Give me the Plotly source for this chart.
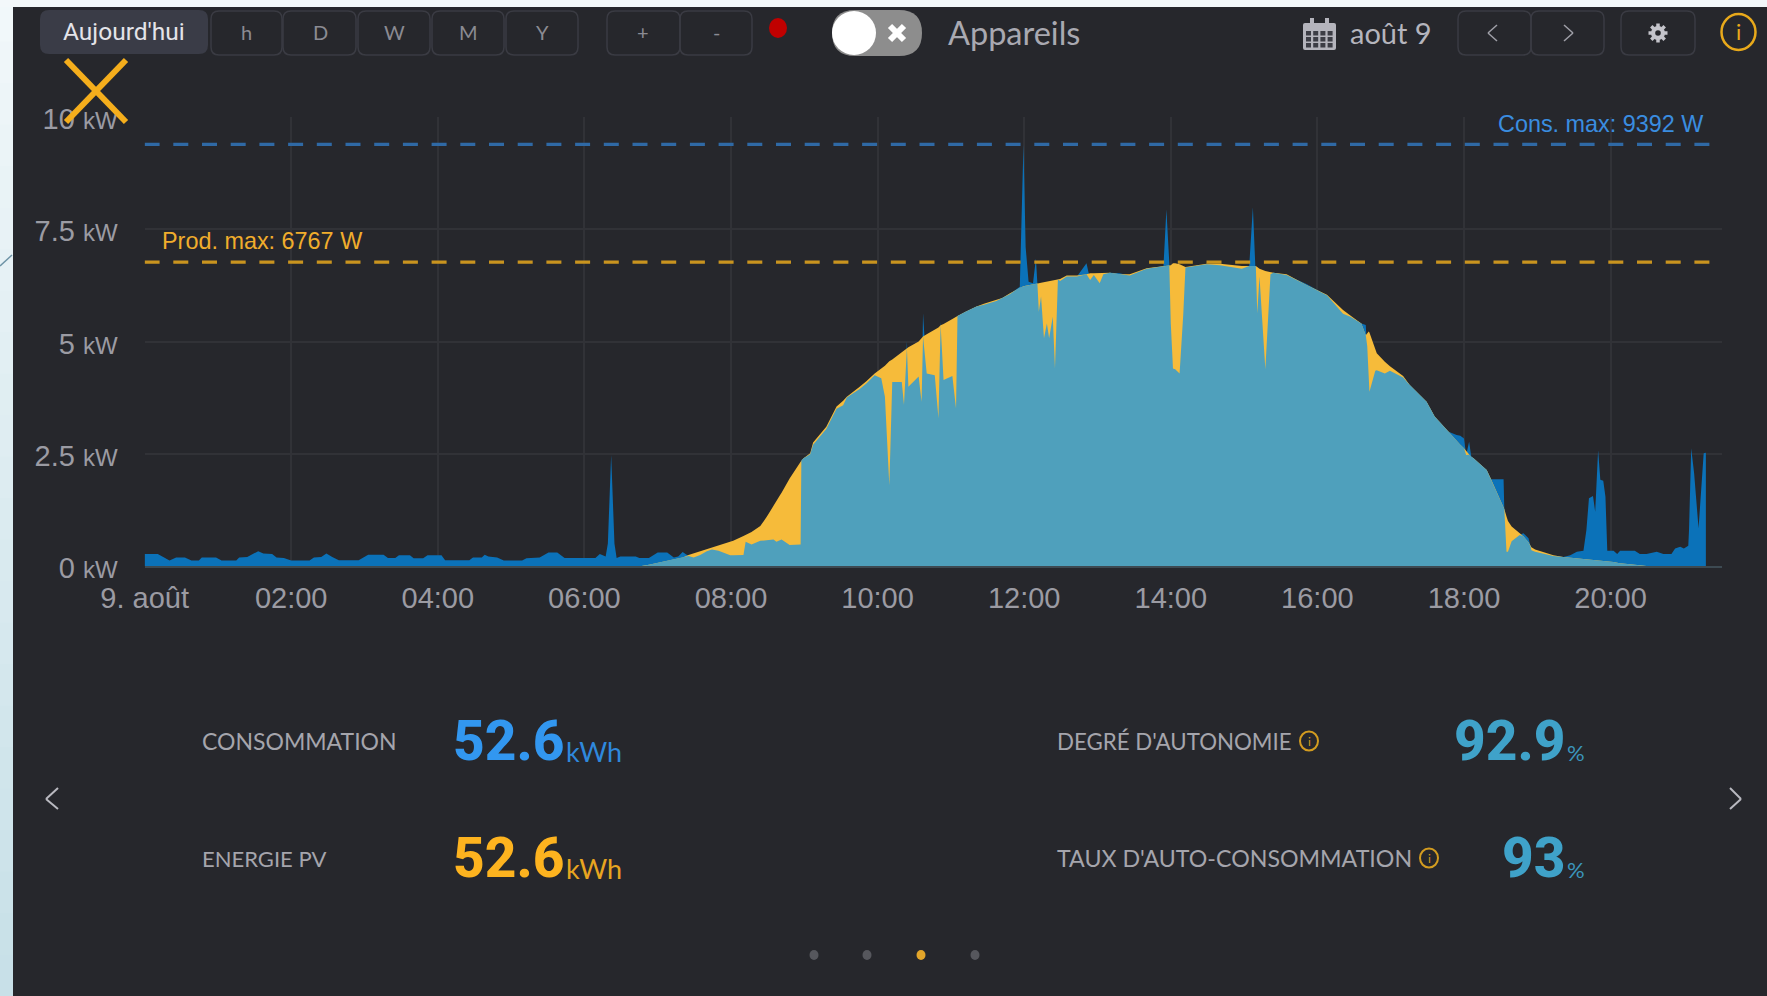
import math
import plotly.graph_objects as go

W, H = 1767, 996

hours = [
 0.00,0.18,0.34,0.43,0.55,0.64,0.74,0.78,0.975,1.05,1.25,1.29,1.40,1.55,1.62,1.74,1.80,1.90,2.00,2.25,
 2.31,2.41,2.48,2.56,2.65,2.92,3.05,3.26,3.32,3.42,3.47,3.62,3.67,3.80,3.86,4.05,4.10,4.43,4.48,4.60,
 4.64,4.69,4.81,4.90,5.15,5.21,5.39,5.51,5.63,5.73,6.15,6.21,6.29,6.32,6.365,6.41,6.44,6.49,6.70,6.75,
 6.78,6.88,7.00,7.13,7.22,7.28,7.34,7.42,7.49,7.58,7.67,7.74,7.83,7.99,8.03,8.17,8.20,8.28,8.40,8.49,
 8.58,8.62,8.67,8.69,8.80,8.95,8.96,8.99,9.08,9.12,9.30,9.44,9.53,9.58,9.76,9.85,9.96,10.05,10.10,10.16,
 10.20,10.33,10.36,10.40,10.42,10.56,10.60,10.62,10.67,10.78,10.83,10.86,10.90,11.02,11.07,11.09,11.20,11.35,11.45,11.62,
 11.70,11.80,11.94,11.99,12.02,12.06,12.12,12.16,12.18,12.20,12.23,12.27,12.31,12.34,12.39,12.42,12.46,12.49,12.58,12.72,
 12.85,12.90,12.95,13.03,13.08,13.17,13.30,13.44,13.67,13.90,13.94,13.98,14.00,14.03,14.06,14.12,14.17,14.20,14.49,14.67,
 14.97,15.07,15.12,15.15,15.16,15.18,15.21,15.29,15.36,15.40,15.58,15.85,16.13,16.35,16.45,16.60,16.66,16.68,16.70,16.71,
 16.79,16.81,16.92,16.99,17.17,17.26,17.49,17.60,17.79,17.90,17.95,18.00,18.03,18.07,18.10,18.13,18.31,18.37,18.54,18.55,
 18.58,18.60,18.65,18.72,18.76,18.81,18.88,18.91,18.92,18.97,19.20,19.22,19.355,19.45,19.54,19.63,19.67,19.705,19.76,19.79,
 19.83,19.86,19.90,19.93,19.955,20.04,20.09,20.13,20.33,20.40,20.49,20.63,20.72,20.83,20.88,20.95,21.00,21.06,21.07,21.10,
 21.14,21.20,21.27,21.30,
]
production_kw = [
 0,0,0,0,0,0,0,0,0,0,0,0,0,0,0,0,0,0,0,0,
 0,0,0,0,0,0,0,0,0,0,0,0,0,0,0,0,0,0,0,0,
 0,0,0,0,0,0,0,0,0,0,0,0,0,0,0,0,0,0,0,0,
 0,.03,.07,.11,.14,.16,.19,.245,.28,.33,.37,.41,.46,.54,.56,.67,.69,.76,.89,1.10,
 1.34,1.46,1.58,1.63,1.95,2.32,2.34,2.40,2.51,2.75,3.10,3.55,3.68,3.77,4.00,4.12,4.29,4.39,4.46,4.56,
 4.60,4.76,4.80,4.85,4.87,5.00,5.09,5.11,5.16,5.26,5.31,5.36,5.39,5.50,5.55,5.57,5.66,5.78,5.84,5.92,
 5.97,6.07,6.20,6.23,6.24,6.25,6.27,6.28,6.29,6.30,6.31,6.32,6.33,6.34,6.36,6.37,6.38,6.39,6.47,6.47,
 6.50,6.52,6.52,6.52,6.52,6.53,6.50,6.50,6.63,6.68,6.68,6.69,6.70,6.74,6.74,6.72,6.68,6.66,6.73,6.73,
 6.68,6.68,6.68,6.68,6.68,6.66,6.62,6.57,6.54,6.53,6.50,6.26,6.04,5.70,5.58,5.40,5.14,5.18,5.22,5.20,
 4.85,4.74,4.55,4.45,4.23,4.03,3.66,3.33,2.99,2.78,2.70,2.62,2.56,2.48,2.43,2.40,2.14,1.93,1.30,1.27,
 1.10,1.00,.88,.78,.73,.66,.53,.45,.42,.37,.245,.24,.20,.185,.17,.16,.15,.14,.13,.13,
 .12,.12,.115,.11,.11,.09,.07,.06,.03,.02,0,0,0,0,0,0,0,0,0,0,
 0,0,0,0,
]
consumption_kw = [
 .27,.27,.12,.19,.19,.12,.12,.19,.19,.12,.12,.19,.20,.33,.28,.27,.19,.18,.12,.12,
 .19,.20,.28,.20,.13,.13,.25,.25,.18,.18,.24,.24,.17,.17,.24,.24,.13,.13,.19,.19,
 .25,.21,.19,.12,.12,.17,.19,.30,.30,.18,.18,.27,.21,.50,2.47,.50,.18,.21,.21,.18,
 .18,.18,.30,.30,.19,.21,.31,.22,.19,.245,.33,.37,.34,.24,.24,.245,.54,.48,.56,.58,
 .59,.54,.58,.59,.47,.48,2.36,2.40,2.49,2.70,3.05,3.50,3.58,3.75,3.95,4.07,4.25,4.18,3.77,1.80,
 4.10,4.10,3.59,5.00,3.99,4.22,3.66,5.63,4.29,4.25,3.29,5.44,4.14,4.23,3.51,5.57,5.66,5.78,5.82,5.90,
 5.97,6.05,6.22,9.39,7.10,6.33,6.30,6.85,6.29,5.66,6.00,5.07,5.40,5.07,5.55,4.40,6.38,6.35,6.45,6.45,
 6.74,6.37,6.48,6.30,6.50,6.53,6.52,6.47,6.62,6.68,7.94,6.74,5.40,4.40,4.38,4.29,5.60,6.65,6.72,6.70,
 6.62,6.68,7.99,6.68,6.68,5.63,6.45,4.38,6.50,6.53,6.48,6.28,6.03,5.62,5.55,5.40,5.37,4.90,4.20,3.88,
 4.35,4.36,4.29,4.35,4.20,4.03,3.66,3.33,2.99,2.92,2.90,2.84,2.47,2.77,2.43,2.40,2.14,1.93,1.93,1.28,
 .32,.32,.55,.64,.69,.73,.62,.43,.35,.32,.23,.22,.20,.24,.32,.34,.80,1.51,1.56,1.21,
 2.58,1.92,1.90,1.54,.34,.34,.27,.34,.34,.27,.27,.32,.27,.27,.39,.43,.39,.45,.80,2.62,
 2.06,.84,2.51,2.52,
]
self_consumed_kw = [min(p, c) for p, c in zip(production_kw, consumption_kw)]

x_ticks = [0, 2, 4, 6, 8, 10, 12, 14, 16, 18, 20]
x_labels = ["9. août", "02:00", "04:00", "06:00", "08:00", "10:00", "12:00", "14:00", "16:00", "18:00", "20:00"]
y_ticks = [0, 2.5, 5, 7.5, 10]
y_numbers = ["0", "2.5", "5", "7.5", "10"]
y_labels = [f"{n} <span style='font-size:24px'>kW</span>" for n in y_numbers]
x_span = [0, 21.5]
cons_max = [9.392, 9.392]
prod_max = [6.767, 6.767]

BG = "#26272c"
BLUE = "#0b72b9"
YELLOW = "#f6bb3a"
TEAL = "#4fa0bc"
TICK = "#9b9ba3"
BORDER = "#3a3b43"
GRID = "#313237"
UI_FONT = "Lato, 'Open Sans', sans-serif"
NUM_FONT = "Roboto, Arial, sans-serif"
ARIAL = "Arial, 'Liberation Sans', sans-serif"

def px(x):
    return x / W

def py(y):
    return 1 - y / H

def rect(x0, y0, x1, y1, fill=None, line=None, width=1.5, layer="above"):
    return dict(type="rect", xref="paper", yref="paper", x0=px(x0), x1=px(x1), y0=py(y0), y1=py(y1),
                fillcolor=fill or "rgba(0,0,0,0)", line=dict(color=line or "rgba(0,0,0,0)", width=width if line else 0), layer=layer)

def rrect(x0, y0, x1, y1, r=8, fill=None, line=None, width=1.5):
    p = (f"M {px(x0+r)} {py(y0)} L {px(x1-r)} {py(y0)} Q {px(x1)} {py(y0)} {px(x1)} {py(y0+r)} "
         f"L {px(x1)} {py(y1-r)} Q {px(x1)} {py(y1)} {px(x1-r)} {py(y1)} "
         f"L {px(x0+r)} {py(y1)} Q {px(x0)} {py(y1)} {px(x0)} {py(y1-r)} "
         f"L {px(x0)} {py(y0+r)} Q {px(x0)} {py(y0)} {px(x0+r)} {py(y0)} Z")
    return dict(type="path", xref="paper", yref="paper", path=p,
                fillcolor=fill or "rgba(0,0,0,0)", line=dict(color=line or "rgba(0,0,0,0)", width=width if line else 0), layer="above")

def ell(cx, cy, rx, ry, fill=None, line=None, width=2):
    return dict(type="circle", xref="paper", yref="paper", x0=px(cx-rx), x1=px(cx+rx), y0=py(cy-ry), y1=py(cy+ry),
                fillcolor=fill or "rgba(0,0,0,0)", line=dict(color=line or "rgba(0,0,0,0)", width=width if line else 0), layer="above")

def seg(x0, y0, x1, y1, color, width=2):
    return dict(type="line", xref="paper", yref="paper", x0=px(x0), x1=px(x1), y0=py(y0), y1=py(y1),
                line=dict(color=color, width=width), layer="above")

def txt(x, y, s, size, color, anchor="left", family=UI_FONT, weight=None):
    f = dict(size=size, color=color, family=family)
    if weight:
        f["weight"] = weight
    return dict(xref="paper", yref="paper", x=px(x), y=py(y), text=s, showarrow=False, xanchor=anchor, yanchor="middle",
                font=f, align=anchor, borderpad=0, borderwidth=0)

fig = go.Figure()
area = dict(mode="lines", fill="tozeroy", hoverinfo="skip", showlegend=False)
fig.add_trace(go.Scatter(x=hours, y=consumption_kw, name="Consommation", line=dict(width=0, color=BLUE), fillcolor=BLUE, **area))
fig.add_trace(go.Scatter(x=hours, y=production_kw, name="Production", line=dict(width=0, color=YELLOW), fillcolor=YELLOW, **area))
fig.add_trace(go.Scatter(x=hours, y=self_consumed_kw, name="Autoconsommation", line=dict(width=0, color=TEAL), fillcolor=TEAL, **area))
fig.add_trace(go.Scatter(x=x_span, y=cons_max, mode="lines", hoverinfo="skip", showlegend=False,
                         line=dict(color="#2f69a5", width=3.2, dash="15px,13.7px")))
fig.add_trace(go.Scatter(x=x_span, y=prod_max, mode="lines", hoverinfo="skip", showlegend=False,
                         line=dict(color="#c9941f", width=3.2, dash="15px,13.7px")))

shapes = []
# page surround, a soft vertical fade
bands = 24
for i in range(bands):
    t = i / (bands - 1)
    c = f"rgb({int(241 - 41 * t)},{int(248 - 24 * t)},{int(250 - 18 * t)})"
    shapes.append(rect(0, i * H / bands, 13, (i + 1) * H / bands + 1, fill=c, layer="below"))
shapes.append(rect(0, 0, W, 7, fill="#f3f8fa", layer="below"))
shapes.append(seg(0, 266, 12, 255, "#6d93a6", 1.5))

# toolbar
shapes.append(rrect(40, 10, 208, 54, r=9, fill="#3a3c47"))
for a, b in [(211, 282), (283, 356), (358, 430), (432, 504), (506, 578), (607, 680), (680, 752), (1458, 1531), (1531, 1604), (1621, 1695)]:
    shapes.append(rrect(a, 11, b, 55, r=8, line=BORDER))
shapes.append(ell(778, 28, 9, 10, fill="#c00000"))
shapes.append(rrect(832, 10, 922, 56, r=23, fill="#8d8d8d"))
shapes.append(ell(854, 33, 22, 22, fill="#ffffff"))
shapes.append(seg(890, 26, 904, 40, "#ffffff", 6))
shapes.append(seg(904, 26, 890, 40, "#ffffff", 6))

# pager arrows in the toolbar
shapes.append(seg(1497, 25, 1488, 33, "#9f9fa7", 1.5))
shapes.append(seg(1488, 33, 1497, 41, "#9f9fa7", 1.5))
shapes.append(seg(1564, 25, 1573, 33, "#9f9fa7", 1.5))
shapes.append(seg(1573, 33, 1564, 41, "#9f9fa7", 1.5))

# gear icon
for k in range(8):
    a = k * math.pi / 4
    shapes.append(seg(1658 + 6 * math.cos(a), 33 + 6 * math.sin(a), 1658 + 9.5 * math.cos(a), 33 + 9.5 * math.sin(a), "#c4c4cb", 3.5))
shapes.append(ell(1658, 33, 7, 7, fill="#c4c4cb"))
shapes.append(ell(1658, 33, 2.8, 2.8, fill=BG))

# calendar icon
shapes.append(rrect(1303, 23, 1336, 50, r=2, fill="#b4b4bc"))
for cx in (1312, 1327):
    shapes.append(rect(cx - 2, 18, cx + 2, 27, fill="#b4b4bc"))
for row in range(3):
    for col in range(4):
        shapes.append(rect(1306 + col * 7.2, 31 + row * 6, 1311 + col * 7.2, 35.5 + row * 6, fill="#3c3d45"))

# info icons
shapes.append(ell(1738.5, 32, 17, 18, line="#e8a91b", width=2.5))
shapes.append(ell(1309, 741, 9, 9.5, line="#d39c20", width=2))
shapes.append(ell(1429, 858, 9, 9.5, line="#d39c20", width=2))

# big cross over the chart
shapes.append(seg(66, 60, 126, 122, "#f5ae1c", 6))
shapes.append(seg(126, 60, 66, 122, "#f5ae1c", 6))

# carousel chevrons and dots
shapes.append(seg(58, 788, 46, 799, "#b9b9c0", 2))
shapes.append(seg(46, 799, 58, 809, "#b9b9c0", 2))
shapes.append(seg(1730, 788, 1741, 799, "#b9b9c0", 2))
shapes.append(seg(1741, 799, 1730, 809, "#b9b9c0", 2))
for cx, c in [(814, "#56575d"), (867, "#56575d"), (921, "#e2a52a"), (975, "#56575d")]:
    shapes.append(ell(cx, 955, 4.5, 5, fill=c))

ann = [
    txt(162, 241, "Prod. max: 6767 W", 23.4, "#f0ad2c", family=ARIAL),
    txt(1703, 124, "Cons. max: 9392 W", 23.4, "#3a8de0", anchor="right", family=ARIAL),
    txt(124, 32, "Aujourd'hui", 24.5, "#e4e4ea", anchor="center", family=NUM_FONT),
    txt(1350, 33, "août 9", 29, "#b5b5bd"),
    txt(948, 33, "Appareils", 32.5, "#a9a9b1"),
    txt(1738.5, 32, "i", 22, "#e8a91b", anchor="center"),
    txt(202, 741, "CONSOMMATION", 23, "#a5a5ac"),
    txt(202, 858, "ENERGIE PV", 22, "#a5a5ac"),
    txt(1057, 741, "DEGRÉ D'AUTONOMIE", 22.3, "#a5a5ac"),
    txt(1057, 858, "TAUX D'AUTO-CONSOMMATION", 23.2, "#a5a5ac"),
    txt(1309, 741, "i", 12, "#d39c20", anchor="center"),
    txt(1429, 858, "i", 12, "#d39c20", anchor="center"),
    txt(453, 741, "52.6", 55, "#3297f0", family=NUM_FONT, weight=800),
    txt(566, 751, "kWh", 27, "#2f88dc"),
    txt(453, 858, "52.6", 55, "#fdb31f", family=NUM_FONT, weight=800),
    txt(566, 868, "kWh", 27, "#e8a520"),
    txt(1565, 741, "92.9", 55, "#3fa2c9", anchor="right", family=NUM_FONT, weight=800),
    txt(1567, 752, "%", 22, "#3b95bb"),
    txt(1565, 858, "93", 55, "#3fa2c9", anchor="right", family=NUM_FONT, weight=800),
    txt(1567, 869, "%", 22, "#3b95bb"),
]
for cx, s in [(246, "h"), (320, "D"), (394, "W"), (468, "M"), (542, "Y"), (643, "+"), (716, "-")]:
    ann.append(txt(cx, 32, s, 20, "#8b8b93", anchor="center"))

fig.update_layout(
    width=W, height=H, margin=dict(l=0, r=0, t=0, b=0, pad=0), autosize=False,
    paper_bgcolor=BG, plot_bgcolor=BG, showlegend=False,
    shapes=shapes, annotations=ann,
    xaxis=dict(domain=[144.6 / W, 1722 / W], range=[0, 21.52], tickmode="array", tickvals=x_ticks, ticktext=x_labels,
               automargin=False, showgrid=True, gridcolor=GRID, gridwidth=1.5, zeroline=False,
               showline=True, linecolor="#3d4a52", linewidth=1.5, ticks="", ticklabelstandoff=5,
               tickfont=dict(size=29, color=TICK, family=ARIAL), fixedrange=True),
    yaxis=dict(domain=[1 - 566 / H, 1 - 117 / H], range=[0, 10], tickmode="array", tickvals=y_ticks, ticktext=y_labels,
               automargin=False, showgrid=True, gridcolor=GRID, gridwidth=1.5, zeroline=False, showline=False,
               ticks="", ticklabelstandoff=26, ticklabelshift=2,
               tickfont=dict(size=29, color=TICK, family=ARIAL), fixedrange=True),
)

fig.write_html("out.html", config=dict(displayModeBar=False),
               post_script="document.body.style.margin='0';document.body.style.overflow='hidden';")
